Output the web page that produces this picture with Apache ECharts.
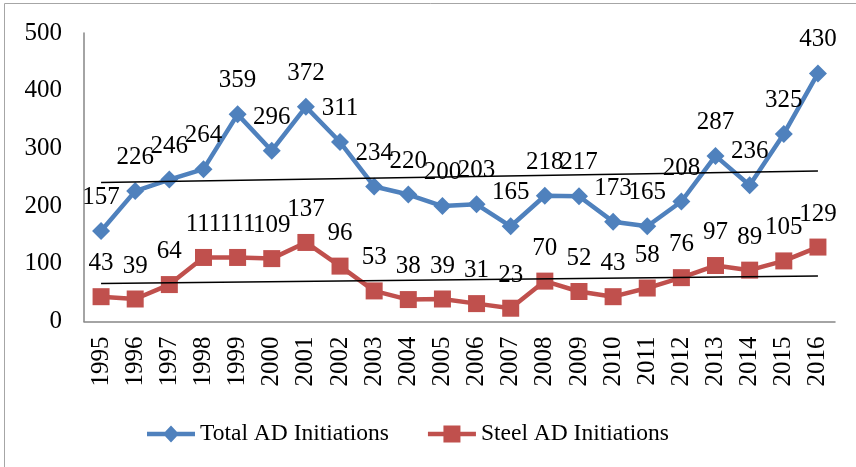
<!DOCTYPE html>
<html>
<head>
<meta charset="utf-8">
<script src="https://cdn.jsdelivr.net/npm/echarts@6/dist/echarts.min.js"></script>
<style>
html,body{margin:0;padding:0;background:#fff;}
#chart{width:856px;height:467px;}
</style>
</head>
<body>
<div id="chart"></div>
<script>
const years = ['1995','1996','1997','1998','1999','2000','2001','2002','2003','2004','2005','2006','2007','2008','2009','2010','2011','2012','2013','2014','2015','2016'];
const totalAD = [157,226,246,264,359,296,372,311,234,220,200,203,165,218,217,173,165,208,287,236,325,430];
const steelAD = [43,39,64,111,111,109,137,96,53,38,39,31,23,70,52,43,58,76,97,89,105,129];
const totalTrend = [241,261];
const steelTrend = [66,79];
const yTicks = [0,100,200,300,400,500];

const FONT = 'Liberation Serif';
const BLUE = '#4F81BD', RED = '#C0504D';
const iconBlue = 'path://M0,6.25H48V10.75H0Z M24,0L32,8.5L24,17L16,8.5Z';
const iconRed = 'path://M0,6.25H48V10.75H0Z M15.5,0H32.5V17H15.5Z';
const chart = echarts.init(document.getElementById('chart'), null, {renderer:'canvas'});
const labelStyle = {show:true, position:'top', distance:12, fontFamily:FONT, fontSize:25, color:'#000'};
chart.setOption({
  animation:false,
  backgroundColor:'#fff',
  graphic:[{type:'rect', shape:{x:4.5,y:3.5,width:900,height:600}, style:{fill:'none', stroke:'#a6a6a6', lineWidth:1}, silent:true}],
  grid:{left:84, right:21, top:33, bottom:145.5, containLabel:false},
  legend:{
    data:[{name:'Total AD Initiations', icon:iconBlue},{name:'Steel AD Initiations', icon:iconRed}],
    left:142, top:417, itemWidth:48, itemHeight:17, itemGap:39,
    textStyle:{fontFamily:FONT, fontSize:23.5, color:'#000'}
  },
  xAxis:{
    type:'category', data:years, boundaryGap:true,
    axisLine:{lineStyle:{color:'#868686', width:1.5}},
    axisTick:{show:false},
    axisLabel:{rotate:90, margin:15, interval:0, fontFamily:FONT, fontSize:25, color:'#000'}
  },
  yAxis:{
    type:'value', min:yTicks[0], max:yTicks[yTicks.length-1], interval:100,
    axisLine:{show:true, lineStyle:{color:'#868686', width:1.5}},
    axisTick:{show:false},
    splitLine:{show:false},
    axisLabel:{margin:22, fontFamily:FONT, fontSize:25, color:'#000'}
  },
  series:[
    {name:'Total AD Initiations', type:'line', data:totalAD, symbol:'diamond', symbolSize:18,
     lineStyle:{color:BLUE, width:4.5}, itemStyle:{color:BLUE}, label:labelStyle, z:3},
    {name:'Steel AD Initiations', type:'line', data:steelAD, symbol:'rect', symbolSize:17,
     lineStyle:{color:RED, width:4.5}, itemStyle:{color:RED}, label:labelStyle, z:3},
    {name:'trendTotal', type:'line', data:[[years[0],totalTrend[0]],[years[years.length-1],totalTrend[1]]],
     symbol:'none', lineStyle:{color:'#000', width:1.5}, z:4, silent:true},
    {name:'trendSteel', type:'line', data:[[years[0],steelTrend[0]],[years[years.length-1],steelTrend[1]]],
     symbol:'none', lineStyle:{color:'#000', width:1.5}, z:4, silent:true}
  ]
});
</script>
</body>
</html>
